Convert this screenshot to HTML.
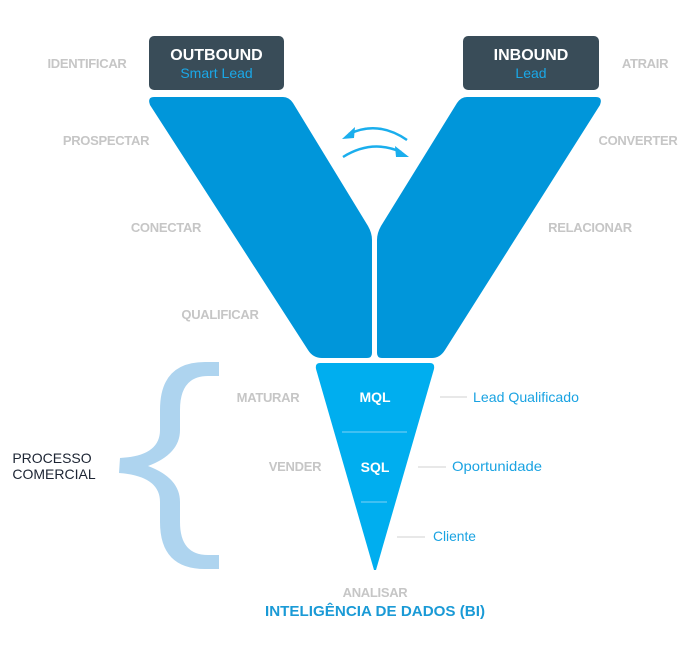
<!DOCTYPE html>
<html><head><meta charset="utf-8"><style>
html,body{margin:0;padding:0;background:#fff;}
svg{display:block;}
.g{font-family:"Liberation Sans",sans-serif;font-weight:bold;font-size:13px;fill:#c6c6c6;text-anchor:middle;letter-spacing:-0.3px;}
.b{font-family:"Liberation Sans",sans-serif;font-size:14px;fill:#1aa3e2;}
</style></head><body>
<svg width="688" height="656" viewBox="0 0 688 656" xmlns="http://www.w3.org/2000/svg">
<rect x="149" y="36" width="135" height="54" rx="5" fill="#394c58"/>
<rect x="463" y="36" width="136" height="54" rx="5" fill="#394c58"/>
<text x="216.5" y="60" font-family="Liberation Sans,sans-serif" font-weight="bold" font-size="16" fill="#fff" text-anchor="middle">OUTBOUND</text>
<text x="216.5" y="78" font-family="Liberation Sans,sans-serif" font-size="14" fill="#1aa8e8" text-anchor="middle">Smart Lead</text>
<text x="531" y="60" font-family="Liberation Sans,sans-serif" font-weight="bold" font-size="16" fill="#fff" text-anchor="middle">INBOUND</text>
<text x="531" y="78" font-family="Liberation Sans,sans-serif" font-size="14" fill="#1aa8e8" text-anchor="middle">Lead</text>
<path d="M154,97 L283,97 Q289,97 293,103 L368,226 Q372,233 372,240 L372,353 Q372,358 367,358 L322,358 Q313,358 308,350 L150,105 Q147,97 154,97 Z" fill="#0096da"/>
<path d="M596,97 L467,97 Q461,97 457,103 L381,226 Q377,233 377,240 L377,353 Q377,358 382,358 L432,358 Q440,358 445,350 L600,105 Q603,97 596,97 Z" fill="#0096da"/>
<path d="M320,363 L430,363 Q435,363 434,369 L376,570 L374,570 L316,369 Q315,363 320,363 Z" fill="#00aeef"/>
<line x1="342" y1="432" x2="407" y2="432" stroke="#7fd3f5" stroke-width="1"/>
<line x1="361" y1="502" x2="387" y2="502" stroke="#7fd3f5" stroke-width="1"/>
<text x="375" y="402" font-family="Liberation Sans,sans-serif" font-weight="bold" font-size="14" fill="#fff" text-anchor="middle">MQL</text>
<text x="375" y="472" font-family="Liberation Sans,sans-serif" font-weight="bold" font-size="14" fill="#fff" text-anchor="middle">SQL</text>
<path d="M407,140 Q378,120 349,134" fill="none" stroke="#1aaeed" stroke-width="2.5"/>
<path d="M342,139 L355,127 L354,138 Z" fill="#1aaeed"/>
<path d="M343,157 Q372,139 401,152" fill="none" stroke="#1aaeed" stroke-width="2.5"/>
<path d="M409,157 L395,146 L396,157 Z" fill="#1aaeed"/>
<!-- brace -->
<path d="M219,362 L205,362 Q160,362 160,410 L160,430 Q160,456 120,458 L119,473 Q160,476 160,502 L160,522 Q160,569 205,569 L219,569 L219,555 L208,555 Q180,555 180,522 L180,502 Q180,478 148,466 Q180,454 180,430 L180,410 Q180,376 208,376 L219,376 Z" fill="#aed4ef"/>
<text x="52" y="463" font-family="Liberation Sans,sans-serif" font-size="14" fill="#1c2433" text-anchor="middle">PROCESSO</text>
<text x="54" y="479" font-family="Liberation Sans,sans-serif" font-size="14" fill="#1c2433" text-anchor="middle">COMERCIAL</text>
<text class="g" x="87" y="68">IDENTIFICAR</text>
<text class="g" x="106" y="145">PROSPECTAR</text>
<text class="g" x="166" y="232">CONECTAR</text>
<text class="g" x="220" y="319">QUALIFICAR</text>
<text class="g" x="645" y="68">ATRAIR</text>
<text class="g" x="638" y="145">CONVERTER</text>
<text class="g" x="590" y="232">RELACIONAR</text>
<text class="g" x="268" y="402">MATURAR</text>
<text class="g" x="295" y="471">VENDER</text>
<text class="g" x="375" y="597">ANALISAR</text>
<text x="375" y="616" font-family="Liberation Sans,sans-serif" font-weight="bold" font-size="15" fill="#1a9ad6" text-anchor="middle" textLength="220" lengthAdjust="spacingAndGlyphs">INTELIGÊNCIA DE DADOS (BI)</text>
<line x1="440" y1="397" x2="467" y2="397" stroke="#d0d0d0" stroke-width="1"/>
<line x1="418" y1="467" x2="446" y2="467" stroke="#d0d0d0" stroke-width="1"/>
<line x1="397" y1="537" x2="425" y2="537" stroke="#d0d0d0" stroke-width="1"/>
<text class="b" x="473" y="402" textLength="106" lengthAdjust="spacingAndGlyphs">Lead Qualificado</text>
<text class="b" x="452" y="471" textLength="90" lengthAdjust="spacingAndGlyphs">Oportunidade</text>
<text class="b" x="433" y="541" textLength="43" lengthAdjust="spacingAndGlyphs">Cliente</text>
</svg>
</body></html>
